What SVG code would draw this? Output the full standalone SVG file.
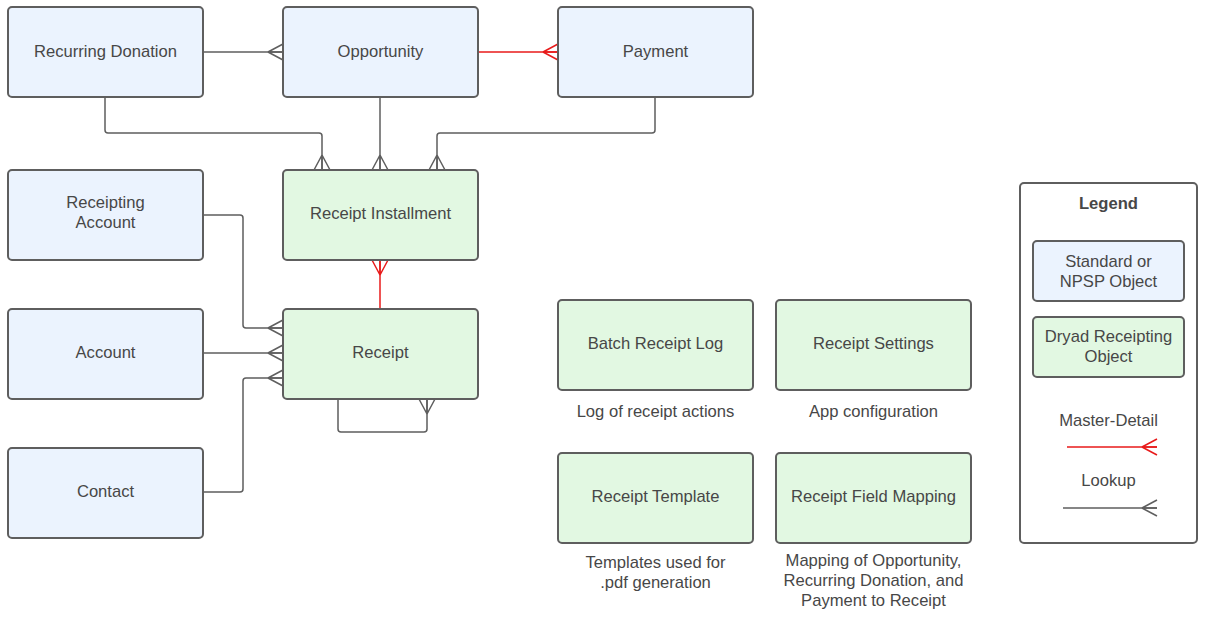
<svg xmlns="http://www.w3.org/2000/svg" width="1208" height="622" viewBox="0 0 1208 622">
<style>
.std{fill:#ebf3fe;stroke:#5e5e5e;stroke-width:2}
.dry{fill:#e2f8e2;stroke:#5e5e5e;stroke-width:2}
.leg{fill:#ffffff;stroke:#5e5e5e;stroke-width:2}
text{font-family:"Liberation Sans",Arial,sans-serif;font-size:16.6px;fill:#474747;text-anchor:middle}
.b{font-weight:bold}
.lk{fill:none;stroke:#5e5e5e;stroke-width:1.5}
.md{fill:none;stroke:#e81a1a;stroke-width:1.5}
</style>
<defs>
<marker id="cf" markerUnits="userSpaceOnUse" markerWidth="18" markerHeight="20" refX="16" refY="9" orient="auto" overflow="visible">
<path d="M1,9 L16,1 M1,9 L16,9 M1,9 L16,17" fill="none" stroke="#5e5e5e" stroke-width="1.5"/>
</marker>
<marker id="cfr" markerUnits="userSpaceOnUse" markerWidth="18" markerHeight="20" refX="16" refY="9" orient="auto" overflow="visible">
<path d="M1,9 L16,1 M1,9 L16,9 M1,9 L16,17" fill="none" stroke="#e81a1a" stroke-width="1.5"/>
</marker>
</defs>
<rect width="1208" height="622" fill="#ffffff"/>
<g id="connectors">
<path class="lk" d="M203,52 L283,52" marker-end="url(#cf)"/>
<path class="md" d="M478,52 L558,52" marker-end="url(#cfr)"/>
<path class="lk" d="M105,97 L105,130 Q105,133 108,133 L319,133 Q322,133 322,136 L322,170" marker-end="url(#cf)"/>
<path class="lk" d="M380,97 L380,170" marker-end="url(#cf)"/>
<path class="lk" d="M655,97 L655,130 Q655,133 652,133 L440,133 Q437,133 437,136 L437,170" marker-end="url(#cf)"/>
<path class="md" d="M380,309 L380,260" marker-end="url(#cfr)"/>
<path class="lk" d="M203,215 L240,215 Q243,215 243,218 L243,325 Q243,328 246,328 L283,328" marker-end="url(#cf)"/>
<path class="lk" d="M203,353 L283,353" marker-end="url(#cf)"/>
<path class="lk" d="M203,492 L240,492 Q243,492 243,489 L243,381 Q243,378 246,378 L283,378" marker-end="url(#cf)"/>
<path class="lk" d="M338,399 L338,429 Q338,432 341,432 L424,432 Q427,432 427,429 L427,399" marker-end="url(#cf)"/>
</g>
<g id="recurring-donation"><rect class="std" x="8" y="7" width="195" height="90" rx="4"/><text x="105.5" y="57">Recurring Donation</text></g>
<g id="opportunity"><rect class="std" x="283" y="7" width="195" height="90" rx="4"/><text x="380.5" y="57">Opportunity</text></g>
<g id="payment"><rect class="std" x="558" y="7" width="195" height="90" rx="4"/><text x="655.5" y="57">Payment</text></g>
<g id="receipting-account"><rect class="std" x="8" y="170" width="195" height="90" rx="4"/><text x="105.5" y="208">Receipting</text><text x="105.5" y="228">Account</text></g>
<g id="receipt-installment"><rect class="dry" x="283" y="170" width="195" height="90" rx="4"/><text x="380.5" y="219">Receipt Installment</text></g>
<g id="account"><rect class="std" x="8" y="309" width="195" height="90" rx="4"/><text x="105.5" y="358">Account</text></g>
<g id="receipt"><rect class="dry" x="283" y="309" width="195" height="90" rx="4"/><text x="380.5" y="358">Receipt</text></g>
<g id="contact"><rect class="std" x="8" y="448" width="195" height="90" rx="4"/><text x="105.5" y="497">Contact</text></g>
<g id="batch-receipt-log"><rect class="dry" x="558" y="300" width="195" height="90" rx="4"/><text x="655.5" y="349">Batch Receipt Log</text><text x="655.5" y="417">Log of receipt actions</text></g>
<g id="receipt-settings"><rect class="dry" x="776" y="300" width="195" height="90" rx="4"/><text x="873.5" y="349">Receipt Settings</text><text x="873.5" y="417">App configuration</text></g>
<g id="receipt-template"><rect class="dry" x="558" y="453" width="195" height="90" rx="4"/><text x="655.5" y="502">Receipt Template</text><text x="655.5" y="568">Templates used for</text><text x="655.5" y="588">.pdf generation</text></g>
<g id="receipt-field-mapping"><rect class="dry" x="776" y="453" width="195" height="90" rx="4"/><text x="873.5" y="502">Receipt Field Mapping</text><text x="873.5" y="566">Mapping of Opportunity,</text><text x="873.5" y="586">Recurring Donation, and</text><text x="873.5" y="606">Payment to Receipt</text></g>
<g id="legend">
<rect class="leg" x="1020" y="183" width="177" height="360" rx="4"/>
<text class="b" x="1108.5" y="209">Legend</text>
<rect class="std" x="1033" y="241" width="151" height="60" rx="4"/>
<text x="1108.5" y="267">Standard or</text><text x="1108.5" y="287">NPSP Object</text>
<rect class="dry" x="1033" y="317" width="151" height="60" rx="4"/>
<text x="1108.5" y="342">Dryad Receipting</text><text x="1108.5" y="362">Object</text>
<text x="1108.5" y="426">Master-Detail</text>
<path class="md" d="M1067,447 L1157,447" marker-end="url(#cfr)"/>
<text x="1108.5" y="486">Lookup</text>
<path class="lk" d="M1063,508 L1157,508" marker-end="url(#cf)"/>
</g>
</svg>
